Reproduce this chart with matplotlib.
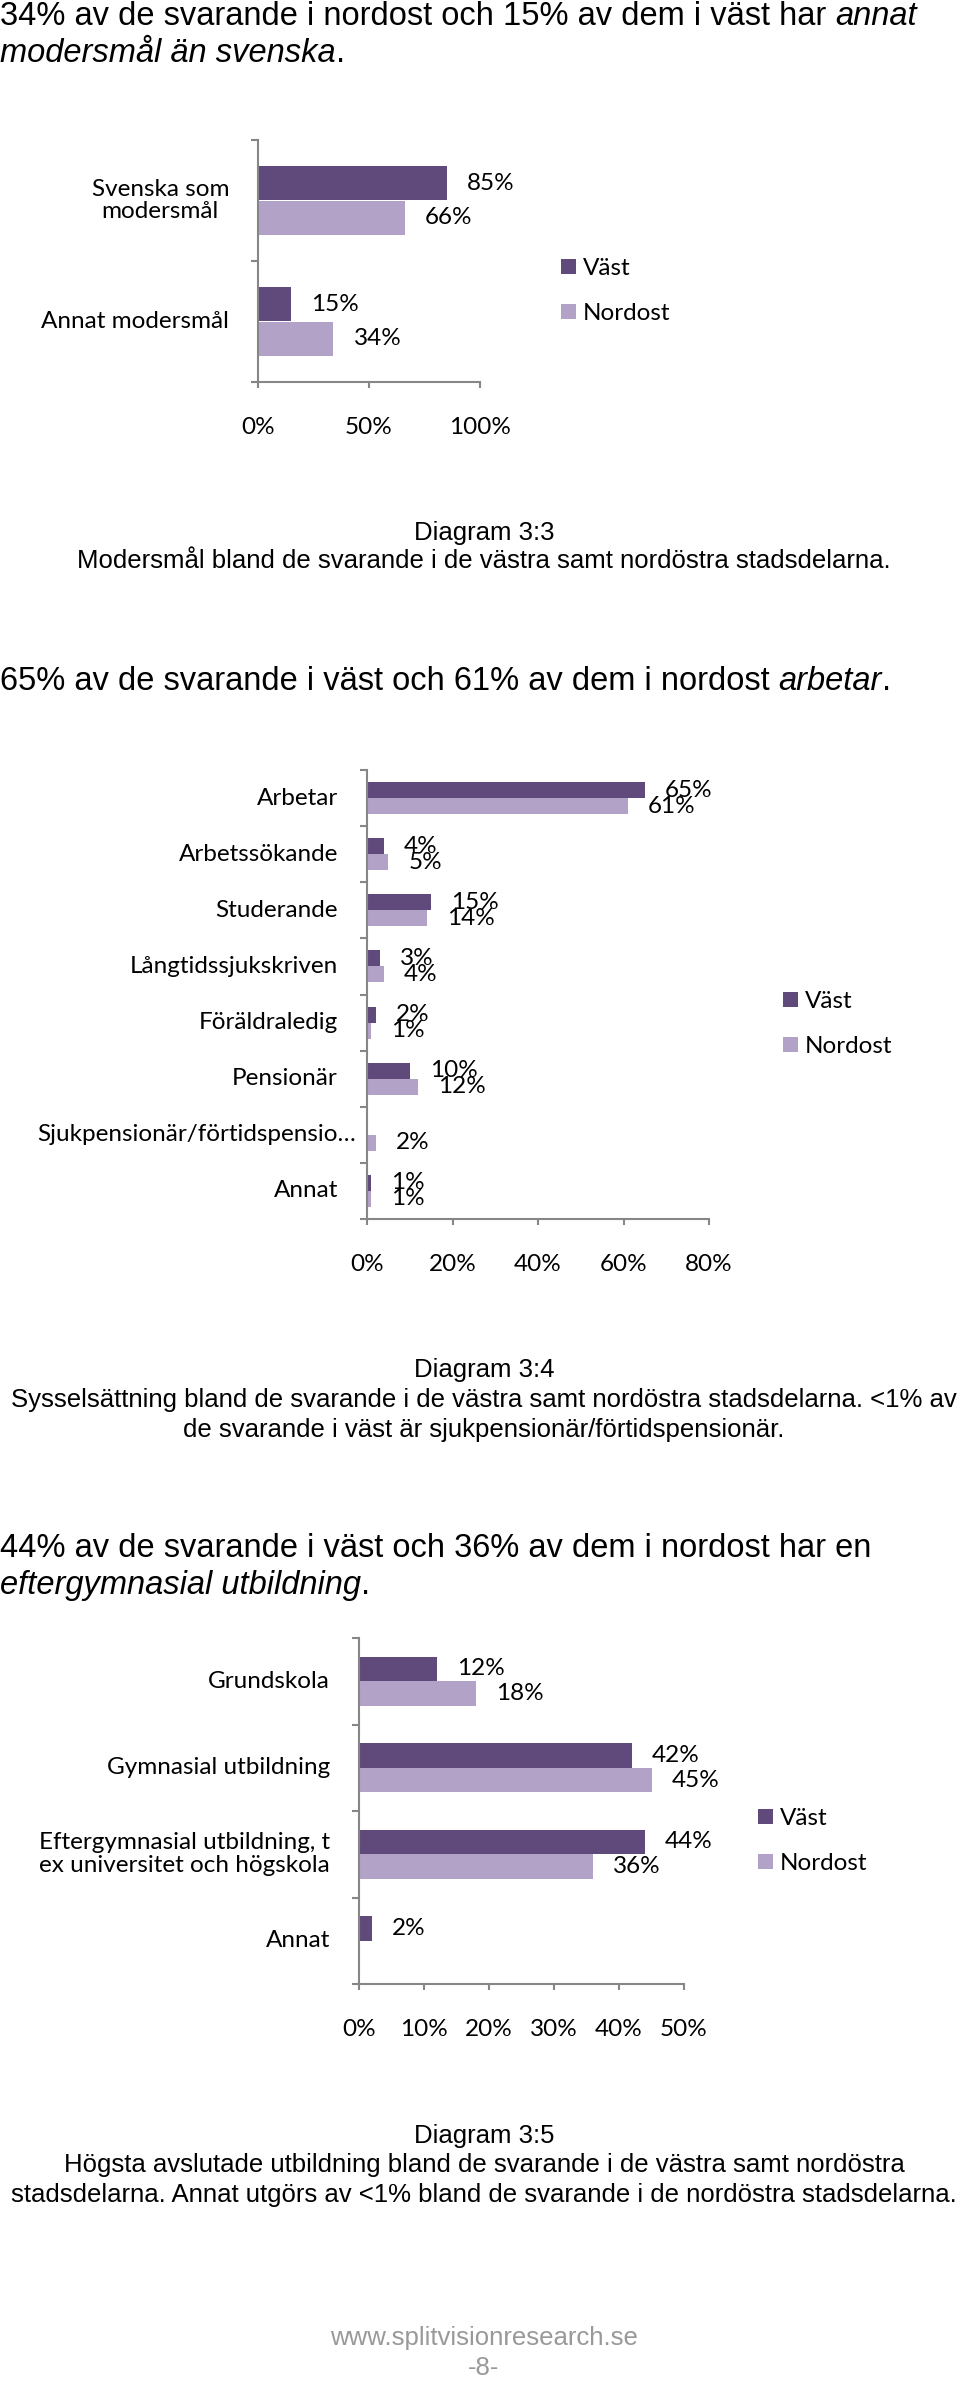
import matplotlib
matplotlib.use('Agg')
import matplotlib.pyplot as plt
import numpy as np

W, H = 960, 2381

vast_color = '#604a7b'
nordost_color = '#b3a2c7'
axis_color = '#868686'
body_font = 'Liberation Sans'
chart_font = 'Lato'

# Diagram 3:3
lang_cats = ['Svenska som\nmodersmål', 'Annat modersmål']
lang_vast = [85, 15]
lang_nordost = [66, 34]
lang_ticks = [0, 50, 100]

# Diagram 3:4
job_cats = ['Arbetar', 'Arbetssökande', 'Studerande', 'Långtidssjukskriven',
            'Föräldraledig', 'Pensionär', 'Sjukpensionär/förtidspensio…', 'Annat']
job_vast = [65, 4, 15, 3, 2, 10, None, 1]
job_nordost = [61, 5, 14, 4, 1, 12, 2, 1]
job_ticks = [0, 20, 40, 60, 80]

# Diagram 3:5
edu_cats = ['Grundskola', 'Gymnasial utbildning',
            'Eftergymnasial utbildning, t\nex universitet och högskola', 'Annat']
edu_vast = [12, 42, 44, 2]
edu_nordost = [18, 45, 36, None]
edu_ticks = [0, 10, 20, 30, 40, 50]

fig = plt.figure(figsize=(W / 100, H / 100), dpi=100)
renderer = fig.canvas.get_renderer()


def fy(py):
    return 1 - py / H


def text_line(y, parts, size=23.5):
    # one line of body text, regular and italic pieces after each other
    x = 0
    for s, style in parts:
        t = fig.text(x / W, fy(y), s, fontsize=size, style=style,
                     family=body_font, va='baseline', ha='left')
        x += t.get_window_extent(renderer).width


def caption(y, s, size=18.5, color='black'):
    fig.text(484 / W, fy(y), s, fontsize=size, family=body_font,
             va='baseline', ha='center', color=color)


def bar_chart(box, cats, vast, nordost, ticks, legend_pos):
    left, right, top, bottom = box
    ax = fig.add_axes([left / W, fy(bottom), (right - left) / W, (bottom - top) / H])
    n = len(cats)
    yc = np.arange(n) + 0.5
    h = 0.285
    v = np.array([np.nan if a is None else a for a in vast], float)
    nd = np.array([np.nan if a is None else a for a in nordost], float)
    ax.barh(yc - h / 2, v, height=h, color=vast_color, label='Väst')
    ax.barh(yc + h / 2, nd, height=h, color=nordost_color, label='Nordost')
    for ys, vals in ((yc - h / 2, v), (yc + h / 2, nd)):
        for yy, val in zip(ys, vals):
            if np.isnan(val):
                continue
            ax.annotate(f'{val:.0f}%', (val, yy), xytext=(20, 0),
                        textcoords='offset pixels', va='center', ha='left',
                        fontsize=17.5, family=chart_font)
    for yy, cat in zip(yc, cats):
        pad = 11 if cat.endswith('…') else 29
        ax.annotate(cat, (0, yy), xycoords=('axes fraction', 'data'),
                    xytext=(-pad, 0), textcoords='offset pixels',
                    ha='right', va='center', multialignment='center',
                    fontsize=17.5, family=chart_font, linespacing=1.1)
    ax.set_xlim(0, ticks[-1])
    ax.set_ylim(n, 0)
    ax.set_yticks(np.arange(n + 1))
    ax.set_yticklabels([])
    ax.set_xticks(ticks)
    ax.set_xticklabels([f'{t}%' for t in ticks], fontsize=17.5, family=chart_font)
    ax.tick_params(axis='y', length=5, width=1.5, color=axis_color)
    ax.tick_params(axis='x', length=4, width=1.5, color=axis_color, pad=21)
    for s in ('top', 'right'):
        ax.spines[s].set_visible(False)
    for s in ('left', 'bottom'):
        ax.spines[s].set_color(axis_color)
        ax.spines[s].set_linewidth(1.5)
    ax.legend(loc='center left', bbox_to_anchor=(legend_pos[0] / W, fy(legend_pos[1])),
              bbox_transform=fig.transFigure, frameon=False, borderpad=0,
              borderaxespad=0, handlelength=0.6, handleheight=0.55,
              handletextpad=0.3, labelspacing=1.0,
              prop={'family': chart_font, 'size': 17.5})
    return ax


text_line(25, [('34% av de svarande i nordost och 15% av dem i väst har ', 'normal'),
               ('annat', 'italic')])
text_line(62, [('modersmål än svenska', 'italic'), ('.', 'normal')])

bar_chart((258, 480, 140, 382), lang_cats, lang_vast, lang_nordost, lang_ticks, (561, 291))
caption(540, 'Diagram 3:3')
caption(568, 'Modersmål bland de svarande i de västra samt nordöstra stadsdelarna.')

text_line(690, [('65% av de svarande i väst och 61% av dem i nordost ', 'normal'),
                ('arbetar', 'italic'), ('.', 'normal')])

bar_chart((367, 709, 770, 1219), job_cats, job_vast, job_nordost, job_ticks, (783, 1024))
caption(1377, 'Diagram 3:4')
caption(1407, 'Sysselsättning bland de svarande i de västra samt nordöstra stadsdelarna. <1% av')
caption(1437, 'de svarande i väst är sjukpensionär/förtidspensionär.')

text_line(1557, [('44% av de svarande i väst och 36% av dem i nordost har en', 'normal')])
text_line(1594, [('eftergymnasial utbildning', 'italic'), ('.', 'normal')])

bar_chart((359, 684, 1638, 1984), edu_cats, edu_vast, edu_nordost, edu_ticks, (758, 1841))
caption(2143, 'Diagram 3:5')
caption(2172, 'Högsta avslutade utbildning bland de svarande i de västra samt nordöstra')
caption(2202, 'stadsdelarna. Annat utgörs av <1% bland de svarande i de nordöstra stadsdelarna.')

caption(2345, 'www.splitvisionresearch.se', color='#999999')
caption(2375, '-8-', color='#999999')

fig.savefig('out.png', dpi=100)
